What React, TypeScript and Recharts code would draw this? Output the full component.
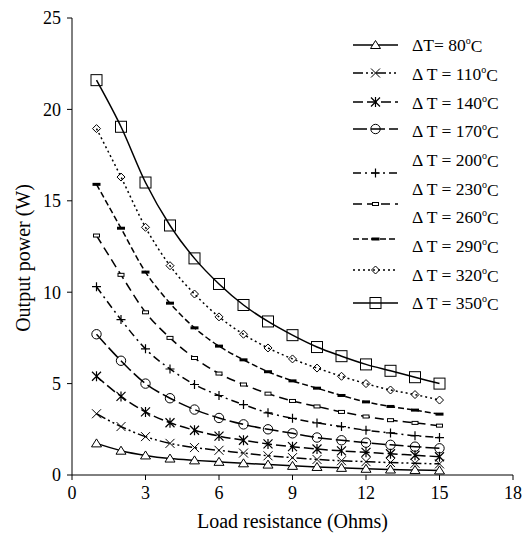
import React from 'react'
import { LineChart, Line, XAxis, YAxis, Legend } from 'recharts'

// load resistance (Ohms)
const RESISTANCE = [1, 2, 3, 4, 5, 6, 7, 8, 9, 10, 11, 12, 13, 14, 15]

// output power (W) per temperature difference
const P80 = [1.73, 1.33, 1.07, 0.9, 0.8, 0.72, 0.64, 0.57, 0.5, 0.44, 0.39, 0.34, 0.3, 0.27, 0.25]
const P110 = [3.35, 2.65, 2.1, 1.73, 1.5, 1.35, 1.2, 1.05, 0.95, 0.85, 0.78, 0.73, 0.68, 0.64, 0.61]
const P140 = [5.4, 4.3, 3.45, 2.86, 2.45, 2.13, 1.9, 1.7, 1.55, 1.42, 1.32, 1.24, 1.16, 1.08, 1.0]
const P170 = [7.7, 6.25, 5.0, 4.2, 3.58, 3.12, 2.77, 2.5, 2.28, 2.05, 1.9, 1.77, 1.65, 1.55, 1.46]
const P200 = [10.3, 8.5, 6.9, 5.8, 4.95, 4.35, 3.85, 3.4, 3.1, 2.85, 2.65, 2.45, 2.3, 2.15, 2.05]
const P230 = [13.1, 10.95, 8.9, 7.5, 6.4, 5.55, 4.95, 4.45, 4.05, 3.75, 3.45, 3.2, 3.0, 2.85, 2.7]
const P260 = [15.9, 13.5, 11.1, 9.4, 8.05, 7.05, 6.3, 5.65, 5.15, 4.75, 4.35, 4.0, 3.75, 3.55, 3.33]
const P320 = [18.95, 16.3, 13.55, 11.45, 9.9, 8.65, 7.7, 6.95, 6.35, 5.85, 5.4, 5.0, 4.65, 4.4, 4.1]
const P350 = [21.6, 19.05, 16.0, 13.65, 11.85, 10.45, 9.3, 8.4, 7.65, 7.0, 6.5, 6.05, 5.7, 5.35, 5.0]

// legend text (the source legend lists ten entries, nine curves are drawn)
const LEGEND_LABELS = ['ΔT= 80', 'Δ T = 110', 'Δ T = 140', 'Δ T = 170', 'Δ T = 200',
  'Δ T = 230', 'Δ T = 260', 'Δ T = 290', 'Δ T = 320', 'Δ T = 350']

const X_TICKS = [0, 3, 6, 9, 12, 15, 18]
const Y_TICKS = [0, 5, 10, 15, 20, 25]

const FONT = '"Liberation Serif", "Times New Roman", serif'

type Marker = 'triangle' | 'cross' | 'star' | 'circle' | 'plus' | 'smallbox' | 'bar' | 'diamond' | 'square'

const SERIES: { key: string; values: number[]; dash?: string; marker: Marker; legendY: number }[] = [
  { key: 'p80', values: P80, marker: 'triangle', legendY: 45 },
  { key: 'p110', values: P110, dash: '10 3 2 3 2 3', marker: 'cross', legendY: 73 },
  { key: 'p140', values: P140, dash: '10 4', marker: 'star', legendY: 102 },
  { key: 'p170', values: P170, dash: '14 4', marker: 'circle', legendY: 129 },
  { key: 'p200', values: P200, dash: '8 4 2 4', marker: 'plus', legendY: 173 },
  { key: 'p230', values: P230, dash: '9 5', marker: 'smallbox', legendY: 204 },
  { key: 'p260', values: P260, dash: '6 3', marker: 'bar', legendY: 239 },
  { key: 'p320', values: P320, dash: '2 3', marker: 'diamond', legendY: 270 },
  { key: 'p350', values: P350, marker: 'square', legendY: 303 },
]

const data = RESISTANCE.map((r, i) => {
  const row: Record<string, number> = { r }
  SERIES.forEach((s) => (row[s.key] = s.values[i]))
  return row
})

function MarkerShape({ type, cx, cy }: { type: Marker; cx: number; cy: number }) {
  const s = { stroke: '#000', strokeWidth: 1, fill: 'none' }
  switch (type) {
    case 'triangle':
      return <polygon points={`${cx},${cy - 4.5} ${cx - 5},${cy + 3.5} ${cx + 5},${cy + 3.5}`} {...s} fill="#fff" />
    case 'cross':
      return <path d={`M${cx - 4.5},${cy - 4.5}L${cx + 4.5},${cy + 4.5}M${cx - 4.5},${cy + 4.5}L${cx + 4.5},${cy - 4.5}`} {...s} />
    case 'star':
      return <path d={`M${cx - 4.5},${cy - 4.5}L${cx + 4.5},${cy + 4.5}M${cx - 4.5},${cy + 4.5}L${cx + 4.5},${cy - 4.5}M${cx},${cy - 5}L${cx},${cy + 5}`} {...s} strokeWidth={1.2} />
    case 'circle':
      return <circle cx={cx} cy={cy} r={4.7} {...s} />
    case 'plus':
      return <path d={`M${cx - 4.5},${cy}L${cx + 4.5},${cy}M${cx},${cy - 4.5}L${cx},${cy + 4.5}`} {...s} strokeWidth={1.2} />
    case 'smallbox':
      return <rect x={cx - 3} y={cy - 1.5} width={6} height={3} {...s} fill="#fff" />
    case 'bar':
      return <rect x={cx - 4} y={cy - 1.5} width={8} height={3} fill="#000" />
    case 'diamond':
      return <polygon points={`${cx},${cy - 4} ${cx + 4},${cy} ${cx},${cy + 4} ${cx - 4},${cy}`} {...s} />
    case 'square':
      return <rect x={cx - 5.5} y={cy - 5.5} width={11} height={11} {...s} />
  }
}

const makeDot = (type: Marker) => (p: any) => (
  <g key={`${type}-${p.index}`}>
    <MarkerShape type={type} cx={p.cx} cy={p.cy} />
  </g>
)

// legend box sits over the upper right of the plot
const LEG_LEFT = 340
const LEG_TOP = 25

function ChartLegend() {
  return (
    <svg width={178} height={300} style={{ display: 'block' }}>
      <g transform={`translate(${-LEG_LEFT}, ${-LEG_TOP})`}>
        {SERIES.map((s) => (
          <g key={s.key}>
            <line x1={353} x2={398} y1={s.legendY} y2={s.legendY} stroke="#000" strokeWidth={1.5} strokeDasharray={s.dash} />
            <MarkerShape type={s.marker} cx={375.5} cy={s.legendY} />
          </g>
        ))}
        {LEGEND_LABELS.map((label, i) => (
          <text key={label} x={412} y={45 + i * 28.7} dy="0.35em" fontFamily={FONT} fontSize={17.5} fill="#000">
            {label}
            <tspan fontSize={10} dy="-0.7em">o</tspan>
            <tspan dy="0.45em">C</tspan>
          </text>
        ))}
      </g>
    </svg>
  )
}

const tickStyle = { fill: '#000', fontFamily: FONT, fontSize: 18 }

export default function App() {
  return (
    <div style={{ position: 'absolute', left: 0, top: 0, background: '#fff' }}>
      <LineChart width={530} height={542} data={data} margin={{ top: 18, right: 17, bottom: 0, left: 12 }}>
        <XAxis
          dataKey="r"
          type="number"
          domain={[0, 18]}
          ticks={X_TICKS}
          height={67}
          tickSize={5}
          tickMargin={6}
          tick={tickStyle}
          axisLine={{ stroke: '#000' }}
          tickLine={{ stroke: '#000' }}
          label={{ value: 'Load resistance (Ohms)', position: 'insideBottom', offset: 14, fill: '#000', fontFamily: FONT, fontSize: 20 }}
        />
        <XAxis xAxisId="top" orientation="top" type="number" domain={[0, 18]} height={0} tick={false} tickLine={false} axisLine={{ stroke: '#000' }} />
        <YAxis
          type="number"
          domain={[0, 25]}
          ticks={Y_TICKS}
          width={60}
          tickSize={5}
          tickMargin={6}
          tick={tickStyle}
          axisLine={{ stroke: '#000' }}
          tickLine={{ stroke: '#000' }}
          label={{
            content: () => (
              <text x={23} y={258} transform="rotate(-90, 23, 258)" textAnchor="middle" dominantBaseline="central" fontFamily={FONT} fontSize={20} fill="#000">
                Output power (W)
              </text>
            ),
          }}
        />
        <YAxis yAxisId="right" orientation="right" type="number" domain={[0, 25]} width={0} tick={false} tickLine={false} axisLine={{ stroke: '#000' }} />
        <Legend
          layout="horizontal"
          align="center"
          verticalAlign="middle"
          wrapperStyle={{ position: 'absolute', left: LEG_LEFT, top: LEG_TOP, width: 178, height: 300 }}
          content={() => <ChartLegend />}
        />
        {SERIES.map((s) => (
          <Line
            key={s.key}
            dataKey={s.key}
            type="monotone"
            stroke="#000"
            strokeWidth={1.5}
            strokeDasharray={s.dash}
            dot={makeDot(s.marker)}
            activeDot={false}
            isAnimationActive={false}
          />
        ))}
      </LineChart>
    </div>
  )
}
